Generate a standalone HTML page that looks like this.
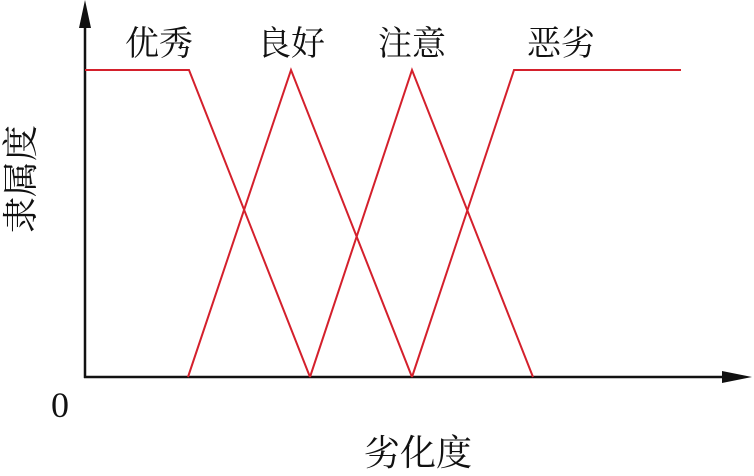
<!DOCTYPE html>
<html><head><meta charset="utf-8"><style>
body{margin:0;background:#fff;width:754px;height:471px;overflow:hidden}
text{font-family:"Liberation Serif","Noto Serif CJK SC","Noto Sans CJK SC",serif;fill:#111}
</style></head><body>
<svg width="754" height="471" viewBox="0 0 754 471" xmlns="http://www.w3.org/2000/svg">
<g stroke="#111" stroke-width="2.5" fill="none">
<line x1="85" y1="378" x2="85" y2="20"/>
<line x1="84" y1="377" x2="730" y2="377"/>
</g>
<polygon points="85,0 79,28 91,28" fill="#111"/>
<polygon points="752,377 722,371 722,383" fill="#111"/>
<g stroke="#d4202c" stroke-width="2" fill="none" stroke-linejoin="miter">
<polyline points="85,70 189,70 310,377"/>
<polyline points="188,377 291,70 412,377"/>
<polyline points="310,377 412,70 533,377"/>
<polyline points="412,377 514,70 681,70"/>
</g>
<g font-size="34">
<text x="125" y="55">优秀</text>
<text x="257" y="55">良好</text>
<text x="378" y="55">注意</text>
<text x="527" y="55">恶劣</text>
</g>
<text x="51" y="417" font-size="36">0</text>
<text x="364" y="465" font-size="36">劣化度</text>
<text transform="translate(33,233) rotate(-90)" font-size="36">隶属度</text>
</svg>
</body></html>
